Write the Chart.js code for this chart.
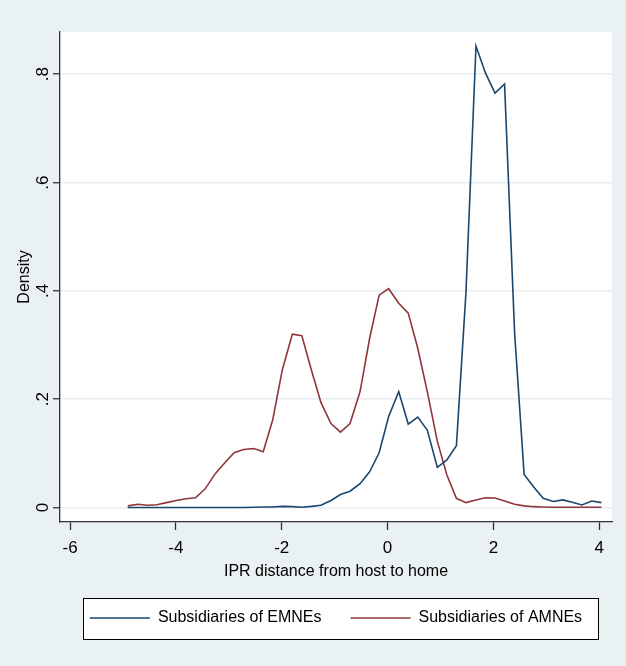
<!DOCTYPE html>
<html>
<head>
<meta charset="utf-8">
<script src="https://cdn.jsdelivr.net/npm/chart.js@4/dist/chart.umd.min.js"></script>
<style>
  html, body { margin: 0; padding: 0; background: #eaf1f3; }
  #wrap { width: 626px; height: 666px; }
</style>
</head>
<body>
<div id="wrap"><canvas id="density-chart" width="626" height="666"></canvas></div>
<script>
// kdensity evaluation points (IPR distance from host to home)
const iprDistance = [
  -4.91, -4.72, -4.54, -4.36, -4.18, -3.99, -3.81, -3.63, -3.45, -3.26,
  -3.08, -2.90, -2.72, -2.53, -2.35, -2.17, -1.99, -1.80, -1.62, -1.44,
  -1.26, -1.07, -0.89, -0.71, -0.52, -0.34, -0.16, 0.02, 0.21, 0.39,
  0.57, 0.75, 0.94, 1.12, 1.30, 1.48, 1.67, 1.85, 2.03, 2.21,
  2.40, 2.58, 2.76, 2.94, 3.13, 3.31, 3.49, 3.67, 3.86, 4.04
];

// Subsidiaries of EMNEs
const emneDensity = [
  0, 0, 0, 0, 0, 0, 0, 0, 0, 0,
  0, 0, 0, 0.0005, 0.001, 0.001, 0.002, 0.0015, 0.0005, 0.002,
  0.004, 0.013, 0.024, 0.030, 0.044, 0.066, 0.101, 0.168, 0.214, 0.154,
  0.167, 0.143, 0.074, 0.088, 0.114, 0.396, 0.852, 0.802, 0.765, 0.782,
  0.322, 0.061, 0.038, 0.017, 0.011, 0.014, 0.0096, 0.0046, 0.012, 0.009
];

// Subsidiaries of AMNEs
const amneDensity = [
  0.003, 0.006, 0.004, 0.005, 0.009, 0.013, 0.016, 0.018, 0.034, 0.062,
  0.082, 0.101, 0.107, 0.109, 0.103, 0.162, 0.254, 0.320, 0.317, 0.254,
  0.194, 0.155, 0.139, 0.155, 0.214, 0.312, 0.392, 0.404, 0.377, 0.359,
  0.294, 0.214, 0.122, 0.060, 0.017, 0.009, 0.014, 0.018, 0.0175, 0.012,
  0.006, 0.003, 0.0015, 0.001, 0.0005, 0.0005, 0.0005, 0.0005, 0.0005, 0.0005
];

const seriesNames = ['Subsidiaries of EMNEs', 'Subsidiaries of AMNEs'];
const xTickValues = [-6, -4, -2, 0, 2, 4];
const yTickValues = [0, 0.2, 0.4, 0.6, 0.8];

const fontFamily = "'Liberation Sans', Arial, sans-serif";
const axisColor = '#333';
const gridColor = '#e6eef2';

function toPoints(ys) {
    return ys.map((y, i) => ({ x: iprDistance[i], y: y }));
}

// white plot region + framed white legend box (Stata look)
const stataFrame = {
    id: 'stataFrame',
    beforeDraw(chart) {
        const ctx = chart.ctx;
        const a = chart.chartArea;
        ctx.save();
        ctx.fillStyle = '#fff';
        ctx.fillRect(a.left, a.top, a.right - a.left, a.bottom - a.top);

        const boxes = chart.legend.legendHitBoxes;
        if (boxes && boxes.length) {
            const first = boxes[0];
            const last = boxes[boxes.length - 1];
            const x0 = Math.round(first.left - 7) + 0.5;
            const x1 = Math.round(last.left + last.width + 16) + 0.5;
            const y0 = Math.round(first.top - 12) + 0.5;
            const y1 = y0 + 41;
            ctx.fillRect(x0, y0, x1 - x0, y1 - y0);
            ctx.strokeStyle = '#000';
            ctx.lineWidth = 1;
            ctx.strokeRect(x0, y0, x1 - x0, y1 - y0);
        }
        ctx.restore();
    }
};

const ctx = document.getElementById('density-chart').getContext('2d');
const densityChart = new Chart(ctx, {
    type: 'line',
    data: {
        datasets: [
            {
                label: seriesNames[0],
                data: toPoints(emneDensity),
                borderColor: '#1a476f',
                backgroundColor: '#1a476f',
                borderWidth: 1.6,
                pointRadius: 0,
                pointStyle: 'line',
                tension: 0
            },
            {
                label: seriesNames[1],
                data: toPoints(amneDensity),
                borderColor: '#90353b',
                backgroundColor: '#90353b',
                borderWidth: 1.6,
                pointRadius: 0,
                pointStyle: 'line',
                tension: 0
            }
        ]
    },
    options: {
        responsive: false,
        animation: false,
        layout: {
            padding: { left: 0, top: 32, right: 14, bottom: 30 }
        },
        plugins: {
            tooltip: { enabled: false },
            legend: {
                position: 'bottom',
                fullSize: false,
                labels: {
                    usePointStyle: true,
                    pointStyle: 'line',
                    pointStyleWidth: 60,
                    padding: 29,
                    color: '#000',
                    font: { family: fontFamily, size: 16 }
                }
            }
        },
        scales: {
            x: {
                type: 'linear',
                min: -6.19,
                max: 4.24,
                afterBuildTicks: (scale) => {
                    scale.ticks = xTickValues.map(v => ({ value: v }));
                },
                afterFit: (scale) => { scale.height = 59; },
                grid: {
                    drawOnChartArea: false,
                    tickLength: 8,
                    tickColor: axisColor,
                    tickWidth: 1.3
                },
                border: { color: axisColor, width: 1.3 },
                ticks: {
                    padding: 8,
                    maxRotation: 0,
                    color: '#000',
                    font: { family: fontFamily, size: 17 }
                },
                title: {
                    display: true,
                    text: 'IPR distance from host to home',
                    color: '#000',
                    font: { family: fontFamily, size: 16 },
                    padding: { top: 0, bottom: 0 }
                }
            },
            y: {
                min: -0.0268,
                max: 0.878,
                afterBuildTicks: (scale) => {
                    scale.ticks = yTickValues.map(v => ({ value: v }));
                },
                afterFit: (scale) => { scale.width = 60; },
                grid: {
                    color: gridColor,
                    lineWidth: 1.5,
                    tickLength: 7,
                    tickColor: axisColor,
                    tickWidth: 1.3
                },
                border: { color: axisColor, width: 1.3 },
                ticks: {
                    minRotation: 90,
                    maxRotation: 90,
                    crossAlign: 'center',
                    padding: 3,
                    color: '#000',
                    font: { family: fontFamily, size: 17 },
                    callback: (v) => v === 0 ? '0' : v.toFixed(1).replace(/^0/, '')
                },
                title: {
                    display: true,
                    text: 'Density',
                    color: '#000',
                    font: { family: fontFamily, size: 16 },
                    padding: { top: 15, bottom: 0 }
                }
            }
        }
    },
    plugins: [stataFrame]
});
</script>
</body>
</html>
